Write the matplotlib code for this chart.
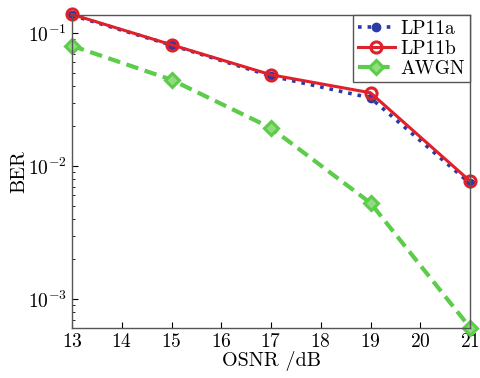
import matplotlib
matplotlib.use("Agg")
import matplotlib.pyplot as plt

osnr = [13, 15, 17, 19, 21]
lp11a = [0.136, 0.081, 0.0475, 0.0325, 0.0074]
lp11b = [0.138, 0.0815, 0.0485, 0.0355, 0.0077]
awgn = [0.080, 0.0445, 0.0193, 0.00527, 0.00061]

plt.rcParams['font.family'] = ['cmr10']
plt.rcParams['mathtext.fontset'] = 'cm'
plt.rcParams['axes.formatter.use_mathtext'] = True

fig = plt.figure(figsize=(4.81, 3.78), dpi=100)
ax = fig.add_axes([72/481, 1-328/378, 398/481, 313/378])

ax.plot(osnr, lp11a, color='#2a3aa8', linestyle=':', linewidth=2.6, marker='o', markersize=6, label='LP11a')
ax.plot(osnr, lp11b, color='#e0202a', linestyle='-', linewidth=2.2, marker='o', markersize=8,
        markerfacecolor='none', markeredgewidth=2.2, label='LP11b')
ax.plot(osnr, awgn, color='#5ccc4a', linestyle='--', linewidth=3.0, dashes=(3, 1.6), marker='D', markersize=7,
        markerfacecolor='#8fdd80', markeredgewidth=2.2, label='AWGN')

ax.set_yscale('log')
ax.set_xlim(13, 21)
ax.set_ylim(6.05e-4, 0.1365)
ax.set_xticks(range(13, 22))
ax.tick_params(which='both', direction='in', top=False, right=False, labelsize=14)
ax.tick_params(which='major', length=4)
ax.tick_params(which='minor', length=2.5)
for s in ax.spines.values():
    s.set_color('#555555')
    s.set_linewidth(1.0)
for m in ax.lines:
    m.set_clip_on(False)

ax.set_xlabel('OSNR /dB', fontsize=14.5, labelpad=0)
ax.set_ylabel('BER', fontsize=14.5, labelpad=0)

leg = ax.legend(loc='upper right', fontsize=14, fancybox=False, framealpha=1,
                edgecolor='#555555', handlelength=1.9, borderpad=0.25, labelspacing=0.1,
                handletextpad=0.3, borderaxespad=0.0)
leg.get_frame().set_linewidth(1.0)

fig.savefig('out.png', dpi=100)
